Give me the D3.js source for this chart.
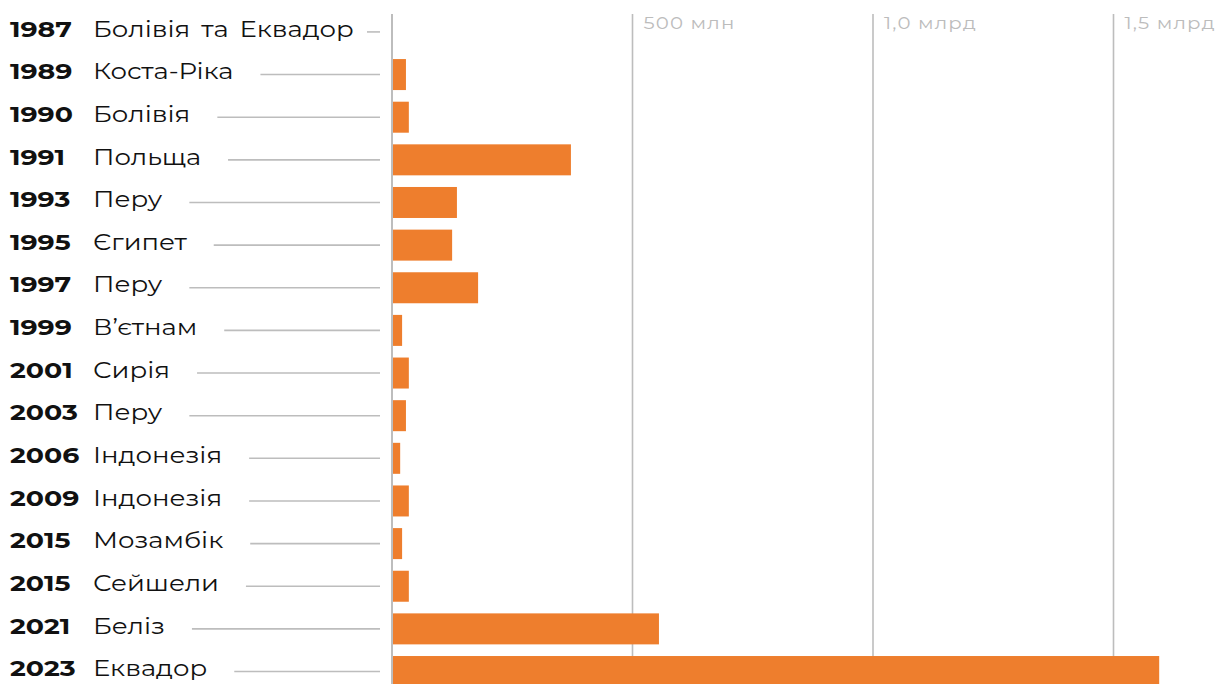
<!DOCTYPE html>
<html><head><meta charset="utf-8">
<script src="https://cdn.jsdelivr.net/npm/d3@7"></script>
<style>
html,body{margin:0;padding:0;background:#fff;}
svg{display:block;}
</style></head>
<body>
<svg id="chart" width="1222" height="684"></svg>
<script>
const years = ["1987","1989","1990","1991","1993","1995","1997","1999","2001","2003","2006","2009","2015","2015","2021","2023"];
const countries = ["Болівія та Еквадор","Коста-Ріка","Болівія","Польща","Перу","Єгипет","Перу","В’єтнам","Сирія","Перу","Індонезія","Індонезія","Мозамбік","Сейшели","Беліз","Еквадор"];
const values = [0.65, 29, 35, 372, 135, 125, 179, 21, 35, 29, 17, 35, 21, 35, 555, 1595]; // million USD
const tickValues = [500, 1000, 1500];
const tickLabels = ["500 млн", "1,0 млрд", "1,5 млрд"];

const W = 1222, H = 684;
const svg = d3.select("#chart");
const FONT = "Montserrat, 'Open Sans', sans-serif";
const SX = 1.18, SXY = 1.22, SXT = 1.16;

const x = d3.scaleLinear().domain([0, 1500]).range([392, 1113.5]);
const idx = d3.range(years.length);
const y = d3.scaleBand().domain(idx).range([10.6, 10.6 + 42.64 * years.length])
  .paddingInner(0.273).paddingOuter(0.1365);

// gridlines
const grid = svg.append("g");
grid.selectAll("line").data(tickValues).join("line")
  .attr("x1", d => x(d)).attr("x2", d => x(d))
  .attr("y1", 14).attr("y2", H)
  .attr("stroke", "#bdbdbd").attr("stroke-width", 1.6);
grid.selectAll("text").data(tickValues).join("text")
  .attr("transform", d => `translate(${x(d) + 11},29) scale(${SXT},1)`)
  .attr("font-family", FONT).attr("font-size", 17)
  .attr("letter-spacing", 1.0)
  .attr("fill", "#bcbcbc")
  .text((d, i) => tickLabels[i]);

// axis line
svg.append("line").attr("x1", x(0)).attr("x2", x(0)).attr("y1", 14).attr("y2", H)
  .attr("stroke", "#bdbdbd").attr("stroke-width", 2);

// bars
svg.append("g").selectAll("rect").data(idx).join("rect")
  .attr("x", x(0) + 1)
  .attr("y", i => y(i))
  .attr("width", i => Math.max(0, x(values[i]) - x(0) - 1))
  .attr("height", y.bandwidth())
  .attr("fill", "#EE7E2D");

// labels
const lab = svg.append("g");
const rowC = i => y(i) + y.bandwidth() / 2;
const textY = i => rowC(i) - 3;
lab.selectAll("text.yr").data(idx).join("text").attr("class", "yr")
  .attr("transform", i => `translate(10,${textY(i)}) scale(${SXY},1)`)
  .attr("dy", "0.35em")
  .attr("font-family", FONT).attr("font-size", 22).attr("font-weight", 700)
  .attr("fill", "#111").text(i => years[i]);
const ct = lab.selectAll("text.ct").data(idx).join("text").attr("class", "ct")
  .attr("transform", i => `translate(93,${textY(i)}) scale(${SX},1)`)
  .attr("dy", "0.35em")
  .attr("font-family", FONT).attr("font-size", 22)
  .attr("word-spacing", 3.5)
  .attr("fill", "#111").text(i => countries[i]);

// leader lines
ct.each(function(i) {
  const end = 93 + this.getComputedTextLength() * SX;
  const start = Math.min(end + 27, 367);
  lab.append("line").attr("x1", start).attr("x2", 380)
    .attr("y1", rowC(i)).attr("y2", rowC(i))
    .attr("stroke", "#bdbdbd").attr("stroke-width", 1.6);
});
</script>
</body></html>
